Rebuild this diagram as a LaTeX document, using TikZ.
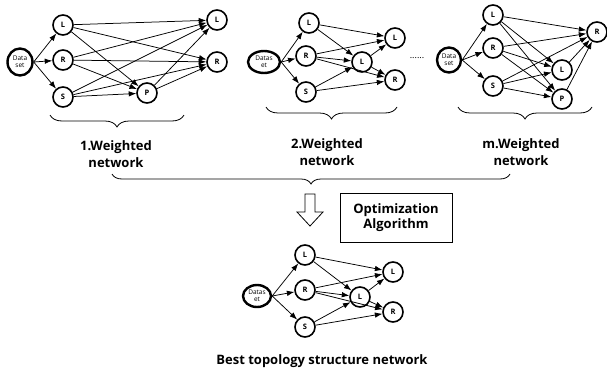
\documentclass[tikz,border=0pt]{standalone}
\usepackage{fontspec}
\setmainfont{Open Sans}
\usetikzlibrary{arrows.meta,shapes.geometric,decorations.pathreplacing}

\tikzset{
  nd/.style={circle,draw,line width=1.6pt,minimum size=20pt,inner sep=0pt,
             font=\fontsize{7.5}{8}\selectfont\bfseries},
  ds/.style={ellipse,draw,line width=2.4pt,inner sep=0pt,align=center,
             font=\fontsize{6.5}{7}\selectfont},
  ed/.style={-{Latex[length=7.5pt,width=5.5pt]},line width=0.75pt},
  lbl/.style={font=\fontsize{13}{17}\selectfont\bfseries,align=center},
  br/.style={decorate,decoration={brace,mirror,amplitude=#1},line width=0.8pt},
  br/.default=12pt
}

\begin{document}
\begin{tikzpicture}[x=1pt,y=-1pt]
\useasboundingbox (0,0) rectangle (607,378);

% ---------- network 1 ----------
\node[ds,minimum width=25pt,minimum height=27pt] (d1) at (20,62) {Data\\set};
\node[nd] (l1) at (63,25) {L};
\node[nd] (r1) at (63,60) {R};
\node[nd] (s1) at (63,97) {S};
\node[nd] (la1) at (217,20) {L};
\node[nd] (ra1) at (217,62) {R};
\node[nd] (p1) at (147,93) {P};
\foreach \t in {l1,r1,s1} \draw[ed] (d1.east) -- (\t);
\foreach \s in {l1,r1,s1}
  \foreach \t in {la1,ra1,p1} \draw[ed] (\s) -- (\t);
\draw[ed] (p1) -- (la1);
\draw[ed] (p1) -- (ra1);

% ---------- network 2 ----------
\node[ds,minimum width=32pt,minimum height=22pt] (d2) at (264,62) {Datas\\et};
\node[nd] (l2) at (309,23) {L};
\node[nd] (r2) at (306,56) {R};
\node[nd] (s2) at (306,92) {S};
\node[nd] (m2) at (362,62) {L};
\node[nd] (la2) at (395,38) {L};
\node[nd] (ra2) at (395,80) {R};
\foreach \t in {l2,r2,s2} \draw[ed] (d2.east) -- (\t);
\draw[ed] (l2) -- (la2);
\draw[ed] (l2) -- (m2);
\draw[ed] (r2) -- (la2);
\draw[ed] (r2) -- (m2);
\draw[ed] (r2) -- (ra2);
\draw[ed] (s2) -- (m2);
\draw[ed] (s2) -- (ra2);
\draw[ed] (m2) -- (la2);
\draw[ed] (m2) -- (ra2);
\node[font=\fontsize{9}{9}\selectfont] (dots) at (417,58) {......};

% ---------- network m ----------
\node[ds,minimum width=24pt,minimum height=25pt] (d3) at (449,60) {Data\\set};
\node[nd] (l3) at (493,15) {L};
\node[nd] (r3) at (493,48) {R};
\node[nd] (s3) at (493,86) {S};
\node[nd] (ra3) at (597,32) {R};
\node[nd] (m3) at (562,70) {L};
\node[nd] (p3) at (562,99) {P};
\foreach \t in {l3,r3,s3} \draw[ed] (d3.east) -- (\t);
\foreach \s in {l3,r3,s3}
  \foreach \t in {ra3,m3,p3} \draw[ed] (\s) -- (\t);
\draw[ed] (m3) -- (ra3);
\draw[ed] (p3) -- (ra3);

% ---------- braces and captions ----------
\draw[br] (50,115) -- (184,115);
\draw[br] (266,107) -- (397,107);
\draw[br] (458,107) -- (592,107);
\node[lbl] (c1) at (116,154) {1.Weighted\\network};
\node[lbl] (c2) at (327,152) {2.Weighted\\network};
\node[lbl] (c3) at (521,152) {m.Weighted\\network};
\draw[br=10pt] (112,174) -- (510,174);

% ---------- optimisation step ----------
\draw[line width=0.8pt] (305,194) -- (315,194) -- (315,212) -- (323,212)
  -- (310,226) -- (297,212) -- (305,212) -- cycle;
\node[draw,line width=0.8pt,minimum width=112pt,minimum height=49pt,
      font=\fontsize{13}{14.5}\selectfont\bfseries,align=center] (opt)
  at (396,217.5) {Optimization\\Algorithm};

% ---------- best network ----------
\node[ds,minimum width=28pt,minimum height=22pt] (d4) at (257,296) {Datas\\et};
\node[nd] (l4) at (305,255) {L};
\node[nd] (r4) at (305,290) {R};
\node[nd] (s4) at (305,327) {S};
\node[nd] (m4) at (360,297) {L};
\node[nd] (la4) at (393,272) {L};
\node[nd] (ra4) at (393,312) {R};
\foreach \t in {l4,r4,s4} \draw[ed] (d4.east) -- (\t);
\draw[ed] (l4) -- (la4);
\draw[ed] (l4) -- (m4);
\draw[ed] (r4) -- (la4);
\draw[ed] (r4) -- (m4);
\draw[ed] (r4) -- (ra4);
\draw[ed] (s4) -- (m4);
\draw[ed] (s4) -- (ra4);
\draw[ed] (m4) -- (la4);
\draw[ed] (m4) -- (ra4);
\node[lbl] (best) at (322,361) {Best topology structure network};
\end{tikzpicture}
\end{document}
